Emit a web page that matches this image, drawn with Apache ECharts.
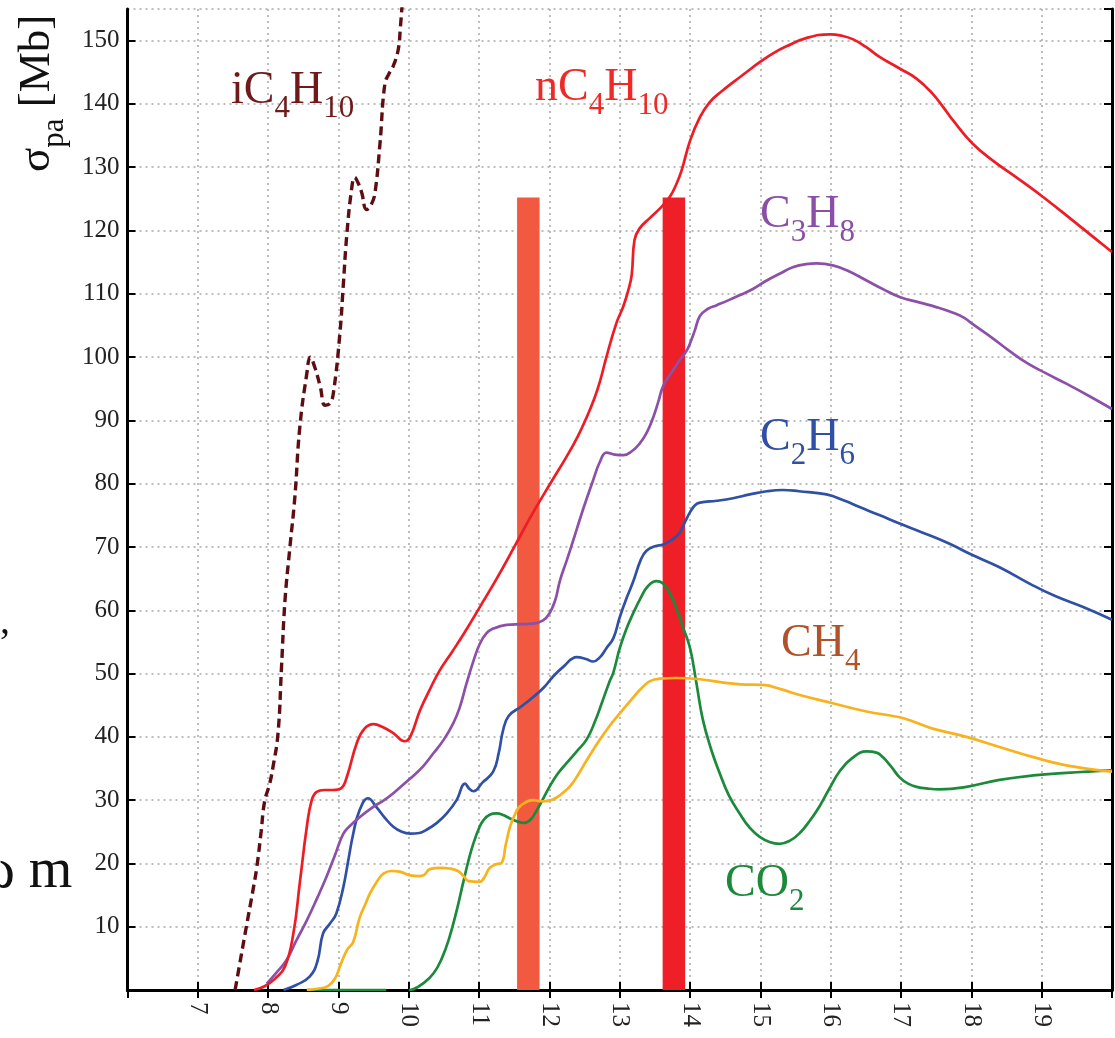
<!DOCTYPE html>
<html>
<head>
<meta charset="utf-8">
<script src="https://cdn.jsdelivr.net/npm/echarts@6/dist/echarts.min.js"></script>
<style>
html,body{margin:0;padding:0;background:#fff;}
#chart{width:1115px;height:1038px;}
</style>
</head>
<body>
<div id="chart"></div>
<script>
// ---- data (photon energy [eV] vs cross-section [Mb]) ----
const xTicks = [7, 8, 9, 10, 11, 12, 13, 14, 15, 16, 17, 18, 19];
const yTicks = [10, 20, 30, 40, 50, 60, 70, 80, 90, 100, 110, 120, 130, 140, 150];

const nC4H10 = [[7.80,0],[7.95,0.6],[8.10,1.8],[8.24,3.7],[8.36,9],[8.45,16.9],[8.55,25.8],[8.62,30],[8.69,31.3],[8.80,31.6],[8.92,31.6],[9.04,31.9],[9.12,33.7],[9.26,39],[9.37,41.3],[9.50,42],[9.62,41.6],[9.78,40.6],[9.94,39.3],[10.02,40],[10.16,44.2],[10.30,47.5],[10.44,50.5],[10.62,53.5],[10.80,56.6],[11.01,60.5],[11.25,65],[11.50,70],[11.75,75.1],[12.0,79.8],[12.24,84.2],[12.40,87.4],[12.53,90.5],[12.64,93.5],[12.72,96.2],[12.81,100],[12.95,105.3],[13.05,108],[13.12,110.5],[13.17,113],[13.21,118.5],[13.28,120.3],[13.43,122],[13.59,123.7],[13.71,125.3],[13.80,127.2],[13.88,129.5],[14.0,134.2],[14.14,137.9],[14.28,140.3],[14.45,142],[14.61,143.4],[14.80,145],[14.99,146.6],[15.18,148],[15.37,149.1],[15.65,150.4],[15.99,151],[16.15,150.8],[16.32,150.2],[16.50,149],[16.70,147.4],[16.98,145.6],[17.22,144],[17.45,141.6],[17.60,139.5],[17.74,137.4],[18.02,133.7],[18.31,131],[18.64,128.4],[19.02,125.3],[19.44,121.6],[19.82,118.2],[20.0,116.6]];

const C3H8 = [[7.98,1.0],[8.10,2.5],[8.26,4.7],[8.40,7.8],[8.55,11],[8.70,14.6],[8.83,17.9],[8.95,21.3],[9.07,24.7],[9.17,26],[9.30,27.3],[9.49,28.9],[9.65,30],[9.78,31.1],[10.02,33.4],[10.20,35.3],[10.35,37.4],[10.50,39.6],[10.63,42.1],[10.72,44.5],[10.82,48.4],[10.92,52],[11.01,54.7],[11.10,56.3],[11.20,57.1],[11.39,57.7],[11.60,57.8],[11.77,57.9],[11.91,58.4],[12.0,59.5],[12.08,61.5],[12.15,64.7],[12.25,68],[12.34,71.1],[12.48,76],[12.62,80.5],[12.72,83.5],[12.81,84.9],[12.93,84.6],[13.05,84.5],[13.18,85.2],[13.28,86.3],[13.38,88],[13.47,90.3],[13.55,93],[13.62,95.5],[13.75,97.8],[13.85,99.5],[13.95,101],[14.0,102.2],[14.07,104.3],[14.14,106.5],[14.25,107.6],[14.38,108.2],[14.55,109],[14.71,109.8],[14.90,110.8],[15.09,112.1],[15.28,113.2],[15.46,114.2],[15.65,114.7],[15.80,114.8],[16.03,114.5],[16.25,113.6],[16.51,112.1],[16.75,110.7],[16.98,109.5],[17.27,108.6],[17.50,107.9],[17.74,107.0],[17.90,106.2],[18.02,105.2],[18.30,103.0],[18.55,100.9],[18.80,99.0],[19.05,97.5],[19.35,95.8],[19.70,93.7],[20.0,91.8]];

const C2H6 = [[8.22,0],[8.40,0.8],[8.59,2.1],[8.70,4.5],[8.78,8.9],[8.88,10.5],[8.97,12.1],[9.07,16.3],[9.14,20.5],[9.21,24.7],[9.30,28.4],[9.42,30.3],[9.54,28.9],[9.66,27.2],[9.78,25.8],[9.90,25],[10.02,24.7],[10.15,24.8],[10.25,25.3],[10.40,26.4],[10.54,27.9],[10.68,30],[10.80,32.6],[10.86,31.8],[10.92,31.4],[11.05,32.8],[11.20,34.5],[11.28,37.5],[11.34,41],[11.42,43.3],[11.60,44.8],[11.77,46.3],[11.92,47.8],[12.05,49.5],[12.20,51.1],[12.39,52.6],[12.52,52.3],[12.62,51.9],[12.72,52.6],[12.81,54],[12.91,55.6],[13.0,58.9],[13.10,62],[13.19,64.5],[13.30,68],[13.38,69.4],[13.50,70.1],[13.62,70.4],[13.75,71.2],[13.85,72.2],[13.93,74],[14.0,75.5],[14.07,76.6],[14.14,77],[14.38,77.3],[14.61,77.7],[14.85,78.3],[15.09,78.8],[15.32,79],[15.55,78.8],[15.94,78.3],[16.20,77.3],[16.41,76.3],[16.70,75],[16.98,73.7],[17.30,72.3],[17.69,70.5],[18.0,68.8],[18.40,66.8],[18.88,63.9],[19.20,62.2],[19.59,60.5],[20.0,58.5]];

const CH4 = [[8.55,0],[8.70,0.2],[8.85,0.6],[8.95,1.8],[9.02,3.7],[9.12,6.3],[9.21,7.6],[9.30,11.4],[9.38,13.5],[9.45,15.3],[9.55,17.2],[9.64,18.4],[9.75,18.8],[9.87,18.7],[10.02,18.1],[10.15,18],[10.22,18.2],[10.30,19.1],[10.45,19.3],[10.58,19.2],[10.70,18.8],[10.78,18],[10.85,17.2],[11.01,17.1],[11.08,17.9],[11.15,19.3],[11.25,19.9],[11.32,20.1],[11.38,23],[11.44,25.8],[11.52,28],[11.60,29.2],[11.77,30],[11.91,29.8],[12.05,30.1],[12.24,31.6],[12.33,32.7],[12.45,34.8],[12.53,36.3],[12.72,39.6],[12.86,41.8],[13.0,43.7],[13.19,46.2],[13.32,47.8],[13.43,48.8],[13.57,49.2],[13.80,49.3],[14.14,49.1],[14.45,48.6],[14.71,48.3],[15.04,48.2],[15.30,47.5],[15.56,46.6],[16.03,45.3],[16.51,44],[16.98,43.1],[17.20,42.3],[17.45,41.3],[17.93,40],[18.40,38.4],[18.88,36.8],[19.35,35.5],[20.0,34.5]];

const CO2 = [[8.55,0],[9.0,0],[9.68,0],[9.85,null],[10.0,0],[10.06,0.1],[10.20,1],[10.35,2.6],[10.47,5],[10.58,8.4],[10.68,12.5],[10.77,16.8],[10.85,20.5],[10.92,23.2],[11.00,25.6],[11.06,26.8],[11.15,27.7],[11.25,27.9],[11.35,27.6],[11.44,27.1],[11.55,26.6],[11.63,26.4],[11.72,26.8],[11.80,28],[11.90,30],[12.0,32.1],[12.12,34.2],[12.24,35.8],[12.38,37.6],[12.53,39.6],[12.65,42.5],[12.75,45.5],[12.85,48.6],[12.91,50.2],[13.0,54],[13.10,57.2],[13.19,59.5],[13.30,62],[13.40,63.8],[13.52,64.6],[13.62,64.2],[13.72,62.5],[13.81,60.2],[13.90,57.3],[14.0,54],[14.09,48.5],[14.18,42.8],[14.30,38],[14.42,34.3],[14.55,30.8],[14.71,27.8],[14.85,25.6],[14.99,24.2],[15.13,23.4],[15.27,23.1],[15.42,23.6],[15.56,24.8],[15.70,26.7],[15.84,29],[15.98,31.8],[16.13,34.6],[16.30,36.6],[16.51,37.7],[16.65,37.5],[16.74,36.8],[16.86,35.3],[16.98,33.6],[17.10,32.6],[17.22,32.1],[17.40,31.8],[17.55,31.7],[17.93,32.1],[18.40,33.2],[18.88,33.9],[19.35,34.3],[20.0,34.7]];

const iC4H10 = [[7.53,0],[7.61,5],[7.69,10],[7.78,15.5],[7.84,19.5],[7.90,25],[7.95,29.8],[8.02,32.5],[8.07,35.3],[8.14,40.5],[8.19,51],[8.24,61.6],[8.31,70],[8.38,77.9],[8.45,88.9],[8.55,97.4],[8.60,100],[8.66,98.5],[8.74,95.4],[8.81,92.4],[8.88,92.7],[8.93,94.5],[9.02,103.7],[9.07,111.6],[9.12,119.5],[9.19,126.8],[9.23,128.4],[9.28,127.5],[9.33,126],[9.40,123.3],[9.47,124.2],[9.52,126],[9.59,133.7],[9.66,143.2],[9.72,144.8],[9.78,146],[9.85,148.6],[9.88,152],[9.92,158]];

// vertical bands: [xStart, xEnd, height]
const bands = [[11.54, 11.86, 125.2], [13.61, 13.93, 125.2]];

// ---- styles ----
const SERIF = "'Liberation Serif','Times New Roman',serif";
const bandColors = ['#F15A40', '#EE1F26'];

const chart = echarts.init(document.getElementById('chart'), null, {renderer: 'canvas'});

function lineSeries(name, data, color, extra) {
  return Object.assign({
    name: name, type: 'line', data: data, showSymbol: false, symbol: 'none',
    smooth: 0.45, connectNulls: false, z: 3,
    lineStyle: {color: color, width: 2.7}, clip: true
  }, extra || {});
}

function richStyles(color, main, sub) {
  return {
    n: {fontFamily: SERIF, fontSize: main, lineHeight: 48, height: 48, verticalAlign: 'bottom', fill: color},
    s: {fontFamily: SERIF, fontSize: sub, lineHeight: 12, height: 12, verticalAlign: 'bottom', fill: color}
  };
}

function label(text, x, y, color) {
  return {
    type: 'text', x: x, y: y, z: 10,
    style: {
      text: text, fill: color, textVerticalAlign: 'middle', textAlign: 'left',
      rich: richStyles(color, 46, 31)
    }
  };
}

const yTickSet = new Set(yTicks);
const xTickSet = new Set(xTicks);

const option = {
  backgroundColor: '#ffffff',
  animation: false,
  grid: {left: 127.5, right: 3, top: 9, bottom: 48, containLabel: false},
  xAxis: [{
    type: 'value', min: 6, max: 20, interval: 1, position: 'bottom',
    axisLine: {show: true, lineStyle: {color: '#000', width: 3}},
    axisTick: {show: true, inside: true, length: 8, lineStyle: {color: '#000', width: 2}},
    axisLabel: {
      rotate: -90, margin: 12, color: '#222', fontFamily: SERIF, fontSize: 25,
      showMinLabel: false, showMaxLabel: false,
      formatter: v => xTickSet.has(v) ? String(v) : ''
    },
    splitLine: {show: true, lineStyle: {color: '#a8a8a8', width: 1.5, type: [2, 4]}}
  }, {
    type: 'value', min: 6, max: 20, interval: 1, position: 'top',
    axisLine: {show: true, lineStyle: {color: '#000', width: 3}},
    axisTick: {show: true, inside: true, length: 8, lineStyle: {color: '#000', width: 2}},
    axisLabel: {show: false}, splitLine: {show: false}
  }],
  yAxis: [{
    type: 'value', min: 0, max: 155, interval: 10, position: 'left',
    axisLine: {show: true, lineStyle: {color: '#000', width: 3}},
    axisTick: {show: true, inside: true, length: 8, lineStyle: {color: '#000', width: 2}},
    axisLabel: {
      margin: 8, color: '#222', fontFamily: SERIF, fontSize: 25,
      showMinLabel: false, showMaxLabel: false,
      formatter: v => yTickSet.has(v) ? String(v) : ''
    },
    splitLine: {show: true, lineStyle: {color: '#a8a8a8', width: 1.5, type: [2, 4]}}
  }, {
    type: 'value', min: 0, max: 155, interval: 10, position: 'right',
    axisLine: {show: true, lineStyle: {color: '#000', width: 3}},
    axisTick: {show: true, inside: true, length: 8, lineStyle: {color: '#000', width: 2}},
    axisLabel: {show: false}, splitLine: {show: false}
  }],
  series: [
    {
      type: 'custom', z: 1, clip: true,
      data: bands,
      encode: {x: [0, 1], y: 2},
      renderItem: function (params, api) {
        const p0 = api.coord([api.value(0), api.value(2)]);
        const p1 = api.coord([api.value(1), 0]);
        return {
          type: 'rect',
          shape: {x: p0[0], y: p0[1], width: p1[0] - p0[0], height: p1[1] - p0[1]},
          style: {fill: bandColors[params.dataIndex]}
        };
      }
    },
    lineSeries('CO2', CO2, '#1C8A3B'),
    lineSeries('CH4', CH4, '#F8B21E'),
    lineSeries('C2H6', C2H6, '#3050A6'),
    lineSeries('C3H8', C3H8, '#8C50A8'),
    lineSeries('nC4H10', nC4H10, '#EE1D25'),
    lineSeries('iC4H10', iC4H10, '#5E0E12', {lineStyle: {color: '#5E0E12', width: 3.4, type: [9, 5]}})
  ],
  graphic: [
    label('{n|iC}{s|4}{n|H}{s|10}', 231, 91, '#6E1A1A'),
    label('{n|nC}{s|4}{n|H}{s|10}', 535, 88, '#EE2A26'),
    label('{n|C}{s|3}{n|H}{s|8}', 760, 215, '#8A4FA6'),
    label('{n|C}{s|2}{n|H}{s|6}', 760, 438, '#3050A6'),
    label('{n|CH}{s|4}', 781, 644, '#B0522A'),
    label('{n|CO}{s|2}', 725, 884, '#1C8A3B'),
    {
      type: 'text', x: 37, y: 172, rotation: Math.PI / 2, z: 10,
      style: {
        text: '{n|σ}{s|pa}{n| [Mb]}', fill: '#111', textAlign: 'left', textVerticalAlign: 'middle',
        rich: richStyles('#111', 45, 31)
      }
    },
    {
      type: 'text', x: -22, y: 872, z: 10,
      style: {text: 'ω m', fill: '#111', fontFamily: SERIF, fontSize: 56, textVerticalAlign: 'middle'}
    },
    {
      type: 'text', x: 0, y: 622, z: 10,
      style: {text: ',', fill: '#111', fontFamily: SERIF, fontSize: 40, textVerticalAlign: 'middle'}
    }
  ]
};

chart.setOption(option);
</script>
</body>
</html>
